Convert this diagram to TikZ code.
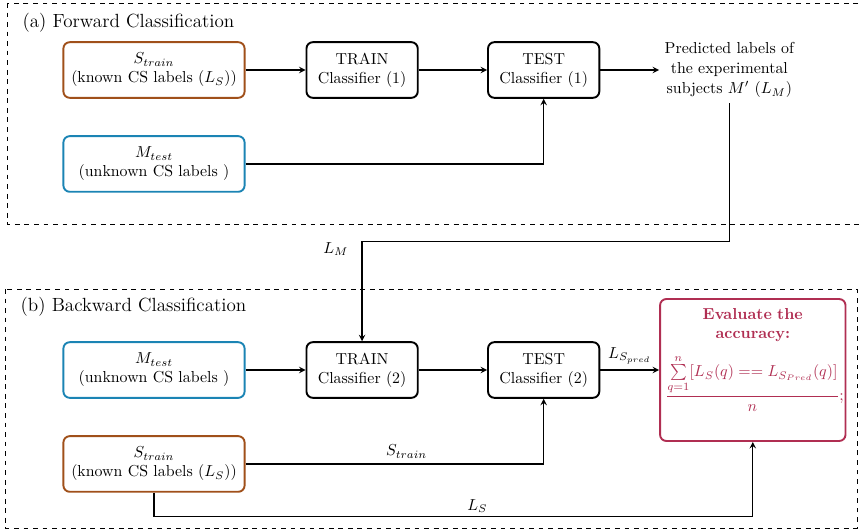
\documentclass[tikz,border=0pt]{standalone}
\usetikzlibrary{positioning,arrows}

\definecolor{trainbrown}{RGB}{160,80,26}
\definecolor{testblue}{RGB}{27,132,180}
\definecolor{evalred}{RGB}{176,46,82}

\tikzset{
  srcbox/.style={draw,very thick,rectangle,rounded corners=4pt,align=center,minimum width=114pt,minimum height=35pt},
  clfbox/.style={draw,very thick,rectangle,rounded corners=4pt,align=center,minimum width=70pt,minimum height=35pt},
  evalbox/.style={draw=evalred,text=evalred,very thick,rectangle,rounded corners=4pt,align=center,text width=110pt,minimum height=89.3pt},
  stagebox/.style={draw,dashed},
  stagetitle/.style={anchor=base west,font=\fontsize{12}{14.5}\selectfont}
}

\begin{document}
\begin{tikzpicture} [x=0.629pt,y=0.629pt,>=stealth,node distance=37.7pt]
    \useasboundingbox (0,0) rectangle (859,-531);

    % (a) forward
    \draw[stagebox] (7,-3) rectangle (865,-224);
    \node[stagetitle] (titlea) at (17,-27) {(a) Forward Classification};

    \node[srcbox,draw=trainbrown] (strainA) at (154,-70) {$S_{train}$\\(known CS labels ($L_S$))};
    \node[srcbox,draw=testblue,below=22.9pt of strainA] (mtestA) {$M_{test}$\\(unknown CS labels )};
    \node[clfbox,right=of strainA] (trainA) {TRAIN\\Classifier (1)};
    \node[clfbox,right=43pt of trainA] (testA) {TEST\\Classifier (1)};
    \node[align=center,right=37pt of testA] (pred) {Predicted labels of\\[0.6pt]the experimental\\[0.6pt]subjects $M'$ ($L_M$)};

    \path (strainA) edge [->,thick] (trainA);
    \path (trainA) edge [->,thick] (testA);
    \path (testA) edge [->,thick] (pred);
    \draw[->,thick] (mtestA.east) -| (testA.south);

    % (b) backward
    \draw[stagebox] (5,-289) rectangle (857,-528);
    \node[stagetitle] (titleb) at (15,-311) {(b) Backward Classification};

    \node[srcbox,draw=testblue] (mtestB) at (154,-370) {$M_{test}$\\(unknown CS labels )};
    \node[srcbox,draw=trainbrown,below=22.9pt of mtestB] (strainB) {$S_{train}$\\(known CS labels ($L_S$))};
    \node[clfbox,right=of mtestB] (trainB) {TRAIN\\Classifier (2)};
    \node[clfbox,right=43pt of trainB] (testB) {TEST\\Classifier (2)};
    \node[evalbox,right=37pt of testB] (evalacc) {\textbf{Evaluate the}\\\textbf{accuracy:}\\[7.5pt]
      $\displaystyle\frac{\sum\limits_{q=1}^{n}[L_S(q) == L_{S_{Pred}}(q)]}{n}$;\par\vspace{12.5pt}};

    \path (mtestB) edge [->,thick] (trainB);
    \path (trainB) edge [->,thick] (testB);
    \path (testB) edge [->,thick] node[above] {$L_{S_{pred}}$} (evalacc);
    \draw[->,thick] (strainB.east) -| (testB.south) node[pos=0.27,above] {$S_{train}$};
    \draw[->,thick] (strainB.south) -- ++(0,-24) -| (evalacc.south) node[pos=0.27,above=-1pt] {$L_S$};

    % link between the two stages
    \draw[->,thick] (pred.south) -- ++(0,-138) -| (trainB.north) node[pos=0.5,below left,xshift=-5pt,yshift=3pt] {$L_M$};
\end{tikzpicture}
\end{document}
